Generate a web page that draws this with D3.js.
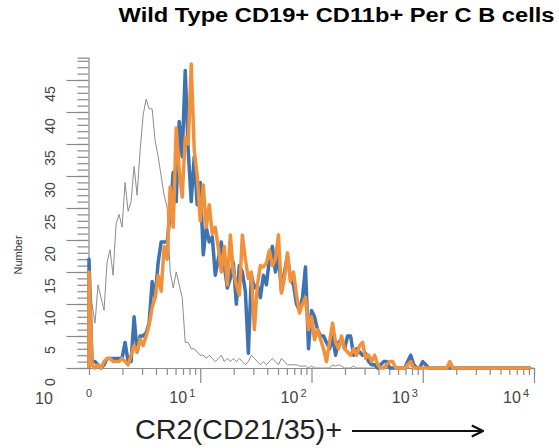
<!DOCTYPE html>
<html><head><meta charset="utf-8">
<script src="https://cdn.jsdelivr.net/npm/d3@7/dist/d3.min.js"></script>
<style>body{margin:0;background:#fff}svg{display:block}</style>
</head><body><svg id="c" width="559" height="448"></svg>
<script>
// ---------- data ----------
const title = "Wild Type CD19+ CD11b+ Per C B cells";
const xTitle = "CR2(CD21/35)+";
const yTitle = "Number";
const yMajorTicks = [0, 5, 10, 15, 20, 25, 30, 35, 40, 45];
const xMajorTicks = [10, 100, 1000, 10000];
const xMajorBase = ["10", "10", "10", "10"];
const xMajorExp = ["1", "2", "3", "4"];
const xZeroLabel = "0";
const xLeftLabel = "10";
// histogram channels: 37 channels per decade on the log display, from 1 (shown as "0") to 10^4
const channelsPerDecade = 37;
const nChannels = 149;
// counts per channel (grey = control, blue and orange = samples)
const controlCounts = [15,10,7,13,11,9,16.5,18.5,14.5,22.5,24,22,29,24.5,26,31.5,27,34,39.5,42,40.5,40.5,35.5,33,30,27,25,15,12.5,15,13,11,4,4,3,3,2.5,2,2,1.5,2,1.5,1,1.5,2,1,1.5,1,1.5,1,1.5,1,0.5,1,2,1.5,1,0.5,1,0.5,1,1.5,1,0.5,1.5,1,0.5,0.5,0.5,0.5,0.3,0.3,0.3,0,0.3,0,0,0,0,0,0,0.5,0.3,0.5,0.3,0,0,0,0.3,0,0,0,0,0,0,0,0,0,0,0,0,0,0,0,0,0,0,0.3,0,0,0,0,0,0,0,0,0,0,0,0,0,0,0,0,0,0,0,0,0,0,0,0,0,0,0,0,0,0,0,0,0,0,0,0,0,0,0,0,0,0,0];
const blueCounts = [17,1,1,0.5,0,0.5,1.5,1.5,1.5,1.5,1.5,1.5,4,1,1,8,2.5,5,5,5.5,7,13.5,11,16.5,19.7,19.7,19.7,24,30.6,26,38.5,33,46.5,34,26,33,25.5,29,17.7,22,19.7,20.5,14.5,17,19.7,16,12.5,14,16.5,10,16,15,12,2.3,14.5,12.5,13,11,14.5,13,17,19,15,17.5,12,15,17.5,14,13,10,9,11,15.8,3,9,8,6,5,5,4,3,5,2,4,4.5,3,5,5,2,3,2.5,2,2.3,1,0.5,0.5,0,0.5,1,1,0,0,0,0,0,0,1,2,0.5,0,0,1,0.5,0,0,0,0,0,0,0,0,0,0,0,0,0,0,0,0,0,0,0,0,0,0,0,0,0,0,0,0,0,0,0,0,0,0,0];
const orangeCounts = [15,0.5,0,0.5,0,1,1.5,1.5,1,1,1,1.5,1,0.5,2,3.5,2.5,4.5,3.5,5,6.7,9.5,11,14.5,12,19,17,28.3,22,37.5,31,26.7,36,35,47.5,34,30,23,28.6,22,25.5,21,22,18.8,15,19,13,20.8,15,13,11.4,20.8,17,14,15,6,13,16,15.8,16.4,18.4,16,17,20.8,11.7,14,18,13.5,15,11.5,8.6,10,11,6,8,4.4,6,4.5,3,1,4,7,4,3,5,3,2.5,2,3,2,3.5,4,1.5,2,1,2,0.5,0,0,0.5,1,1,0,0,0,0,0.5,1,0,0,0,0,0,0,0,0,0,0,0,0,1,0,0,0,0,0,0,0,0,0,0,0,0,0,0,0,0,0,0,0,0,0,0,0,0,0,0,0];

// ---------- drawing ----------
const svg = d3.select("#c");
const x = d3.scaleLog().domain([1, 10000]).range([89, 534]);
const y = d3.scaleLinear().domain([0, 48.5]).range([368, 57.6]);
const channelValue = d3.range(nChannels).map(k => Math.pow(10, k / channelsPerDecade));

const axisColor = "#8a8a8a";
const font = "Liberation Sans, Arial, sans-serif";

// y axis: minor ticks every 1, major every 5
const gyMinor = svg.append("g").attr("transform", "translate(88.5,0)")
  .call(d3.axisLeft(y).tickValues(d3.range(0, 49)).tickSize(11).tickFormat(""));
const gyMajor = svg.append("g").attr("transform", "translate(88.5,0)")
  .call(d3.axisLeft(y).tickValues(yMajorTicks).tickSize(22).tickFormat(""));
[gyMinor, gyMajor].forEach(g => {
  g.selectAll("line").attr("stroke", axisColor).attr("stroke-width", 1.2);
  g.select(".domain").attr("stroke", axisColor).attr("stroke-width", 1.2);
});
gyMajor.select(".domain").remove();
// rotated y tick labels
svg.append("g").selectAll("text").data(yMajorTicks).join("text")
  .attr("transform", d => `translate(55,${y(d) + 14}) rotate(-90)`)
  .attr("text-anchor", "middle")
  .attr("font-family", font)
  .attr("font-size", 14).attr("fill", "#444")
  .text(d => d);

// x axis: minor log ticks and major decade ticks
const minorX = [];
[1, 10, 100, 1000].forEach(dec => { for (let m = 2; m <= 9; m++) minorX.push(dec * m); });
const gxMinor = svg.append("g").attr("transform", "translate(0,368)")
  .call(d3.axisBottom(x).tickValues(minorX).tickSize(7).tickFormat(""));
const gxMajor = svg.append("g").attr("transform", "translate(0,368)")
  .call(d3.axisBottom(x).tickValues(xMajorTicks).tickSize(15).tickFormat(""));
[gxMinor, gxMajor].forEach(g => {
  g.selectAll("line").attr("stroke", axisColor).attr("stroke-width", 1.2);
  g.select(".domain").attr("stroke", axisColor).attr("stroke-width", 1.2);
});
gxMajor.select(".domain").remove();

// x tick labels
const xl = svg.append("g").selectAll("text").data(xMajorTicks).join("text")
  .attr("x", d => x(d) - 5).attr("y", 403)
  .attr("text-anchor", "end").attr("font-family", font).attr("fill", "#444");
xl.append("tspan").attr("font-size", 16).text((d, i) => xMajorBase[i]);
xl.append("tspan").attr("font-size", 11).attr("dx", 2).attr("dy", -6).text((d, i) => xMajorExp[i]);
svg.append("text").attr("x", x(1)).attr("y", 397).attr("text-anchor", "middle")
  .attr("font-family", font).attr("font-size", 11).attr("fill", "#444").text(xZeroLabel);
svg.append("text").attr("x", 44).attr("y", 404).attr("text-anchor", "middle")
  .attr("font-family", font).attr("font-size", 16).attr("fill", "#444").text(xLeftLabel);

// histogram lines
function pts(counts) {
  const p = [[x(channelValue[0]), y(0)]];
  counts.forEach((c, k) => p.push([x(channelValue[k]), y(c)]));
  return p;
}
const line = d3.line();
svg.append("path").attr("d", line(pts(controlCounts)))
  .attr("fill", "none").attr("stroke", "#8c8c8c").attr("stroke-width", 1).attr("stroke-linejoin", "round");
svg.append("path").attr("d", line(pts(blueCounts)))
  .attr("fill", "none").attr("stroke", "#3e72b1").attr("stroke-width", 3.5).attr("stroke-linejoin", "round");
svg.append("path").attr("d", line(pts(orangeCounts)))
  .attr("fill", "none").attr("stroke", "#f2913c").attr("stroke-width", 3.5).attr("stroke-linejoin", "round");

// titles
svg.append("text").attr("x", 336.5).attr("y", 22).attr("text-anchor", "middle")
  .attr("font-family", font).attr("font-weight", "bold").attr("font-size", 20).attr("fill", "#000")
  .attr("textLength", 436).attr("lengthAdjust", "spacingAndGlyphs")
  .text(title);
svg.append("text").attr("transform", "translate(22,255) rotate(-90)").attr("text-anchor", "middle")
  .attr("font-family", font).attr("font-size", 11).attr("fill", "#333").text(yTitle);
svg.append("text").attr("x", 135).attr("y", 439)
  .attr("font-family", font).attr("font-size", 28).attr("fill", "#222")
  .attr("textLength", 207).attr("lengthAdjust", "spacingAndGlyphs").text(xTitle);
// arrow
svg.append("defs").append("marker").attr("id", "ah").attr("viewBox", "0 0 10 10")
  .attr("refX", 9).attr("refY", 5).attr("markerWidth", 7).attr("markerHeight", 7).attr("orient", "auto")
  .append("path").attr("d", "M1,1 L9,5 L1,9").attr("fill", "none").attr("stroke", "#111").attr("stroke-width", 1.6);
svg.append("line").attr("x1", 352).attr("x2", 483).attr("y1", 431).attr("y2", 431)
  .attr("stroke", "#111").attr("stroke-width", 2).attr("marker-end", "url(#ah)");
</script></body></html>
